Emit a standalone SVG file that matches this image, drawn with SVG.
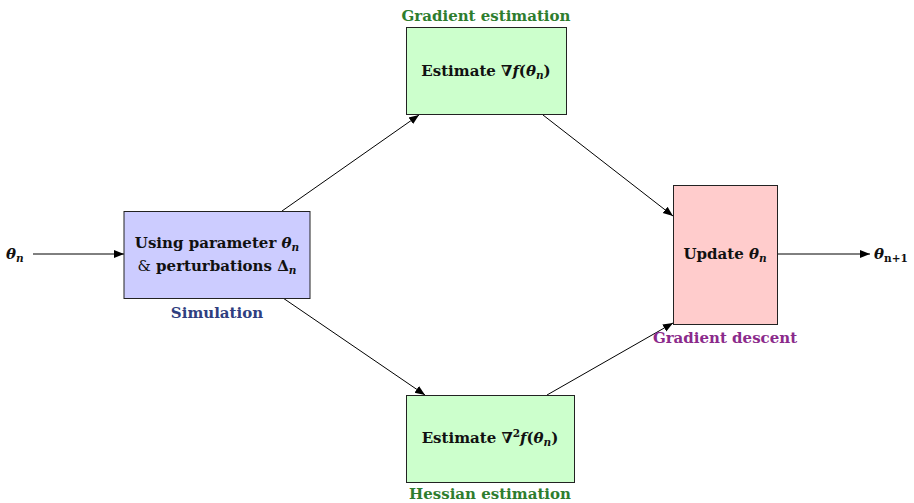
<svg xmlns="http://www.w3.org/2000/svg" width="914" height="503" viewBox="0 0 914 503">
<defs>
<marker id="ah" viewBox="0 0 10 10" refX="10" refY="5" markerWidth="10" markerHeight="10" markerUnits="userSpaceOnUse" orient="auto">
<path d="M0,1 L10,5 L0,9 z" fill="#000"/>
</marker>
<style>
.box{stroke:#222;stroke-width:1}
.t{font-family:"DejaVu Serif",serif;font-weight:bold;font-size:15px;fill:#111}
.m{font-style:italic}
.s{font-size:10.5px}
.lbl{font-family:"DejaVu Serif",serif;font-weight:bold;font-size:15px}
.c{stroke:#000;stroke-width:1;fill:none;marker-end:url(#ah)}
</style>
</defs>
<rect width="914" height="503" fill="#fff"/>
<g id="connectors">
<line class="c" x1="33" y1="254" x2="124" y2="254"/>
<line class="c" x1="282" y1="211" x2="419" y2="115"/>
<line class="c" x1="543" y1="115" x2="673" y2="216"/>
<line class="c" x1="283" y1="298" x2="425" y2="395"/>
<line class="c" x1="547" y1="395" x2="673" y2="323"/>
<line class="c" x1="778" y1="254" x2="870" y2="254"/>
</g>
<g id="input">
<text class="t" x="6" y="259"><tspan class="m">θ</tspan><tspan class="m s" dy="3">n</tspan></text>
</g>
<g id="simulation">
<rect class="box" x="124" y="211.5" width="186" height="87" fill="#ccccff"/>
<text class="t" x="217" y="248" text-anchor="middle">Using parameter <tspan class="m">θ</tspan><tspan class="m s" dy="3">n</tspan></text>
<text class="t" x="217" y="271" text-anchor="middle"><tspan font-weight="normal">&amp;</tspan> perturbations Δ<tspan class="m s" dy="3">n</tspan></text>
<text class="lbl" x="217" y="318" text-anchor="middle" fill="#2f3f80">Simulation</text>
</g>
<g id="gradient">
<rect class="box" x="406.5" y="27.5" width="160" height="87" fill="#ccffcc"/>
<text class="t" x="486" y="76" text-anchor="middle">Estimate ∇<tspan class="m">f</tspan>(<tspan class="m">θ</tspan><tspan class="m s" dy="3">n</tspan><tspan dy="-3">)</tspan></text>
<text class="lbl" x="486" y="21" text-anchor="middle" fill="#2e7d2e">Gradient estimation</text>
</g>
<g id="hessian">
<rect class="box" x="406.5" y="395.5" width="168" height="87" fill="#ccffcc"/>
<text class="t" x="490" y="443" text-anchor="middle">Estimate ∇<tspan class="s" dy="-6">2</tspan><tspan class="m" dy="6">f</tspan>(<tspan class="m">θ</tspan><tspan class="m s" dy="3">n</tspan><tspan dy="-3">)</tspan></text>
<text class="lbl" x="490" y="499" text-anchor="middle" fill="#2e7d2e">Hessian estimation</text>
</g>
<g id="update">
<rect class="box" x="673.5" y="185.5" width="104" height="139" fill="#ffcccc"/>
<text class="t" x="725" y="259" text-anchor="middle">Update <tspan class="m">θ</tspan><tspan class="m s" dy="3">n</tspan></text>
<text class="lbl" x="725" y="343" text-anchor="middle" fill="#8b2a8b">Gradient descent</text>
</g>
<g id="output">
<text class="t" x="874" y="259"><tspan class="m">θ</tspan><tspan class="s" dy="3">n+1</tspan></text>
</g>
</svg>
